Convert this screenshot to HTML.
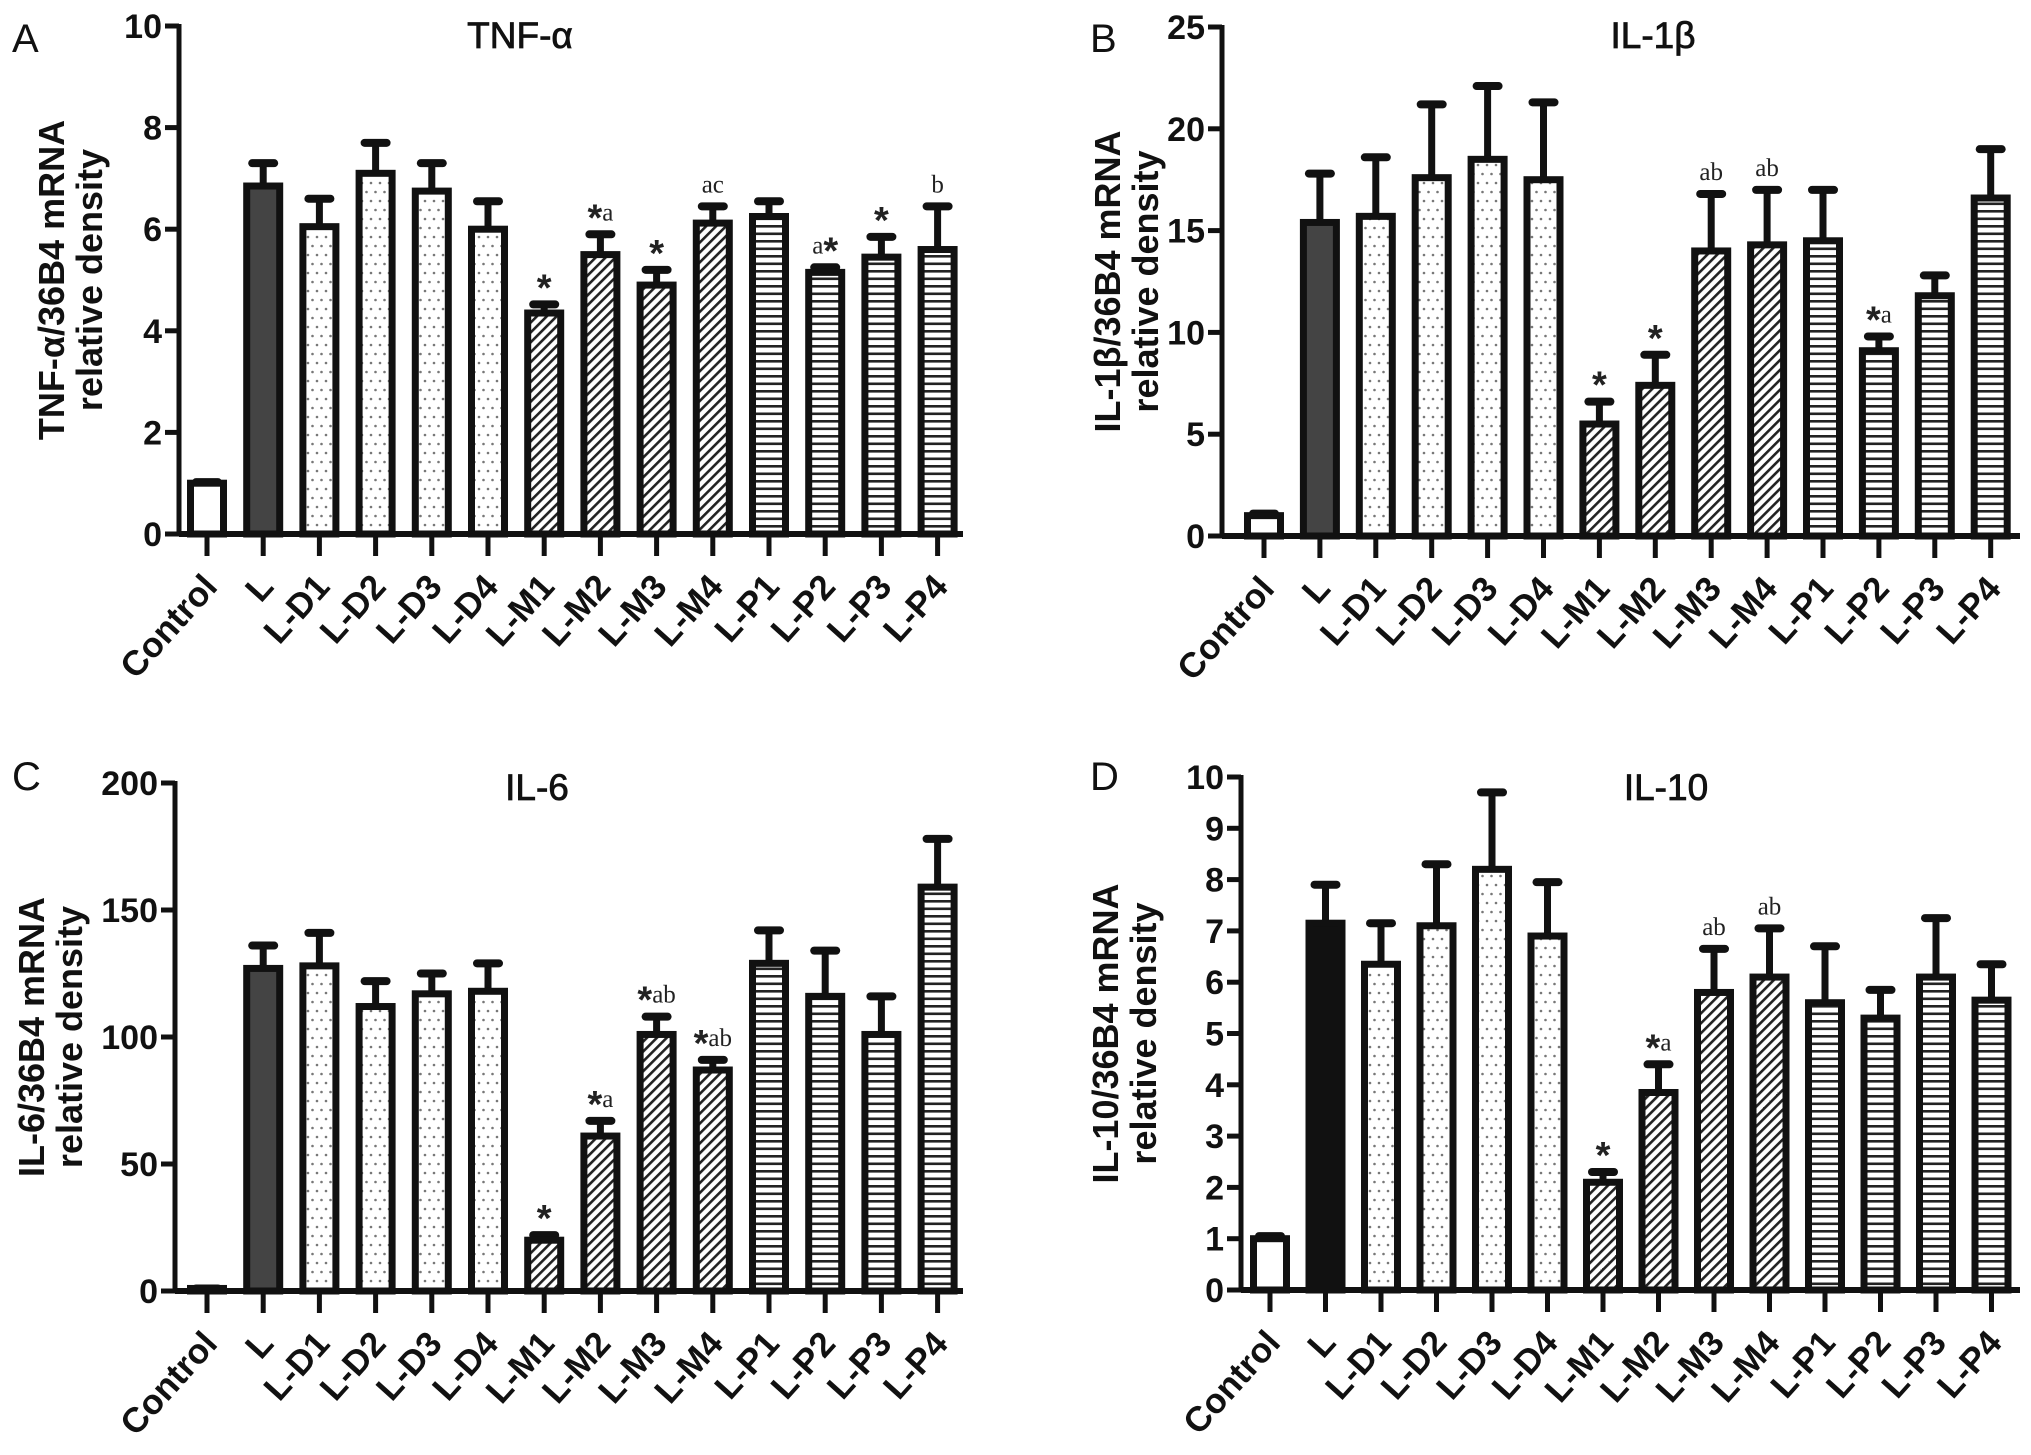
<!DOCTYPE html>
<html><head><meta charset="utf-8"><style>
html,body{margin:0;padding:0;background:#fff}
svg{display:block}
text{font-family:"Liberation Sans",sans-serif}
</style></head><body>
<svg id="fig" width="2031" height="1455" viewBox="0 0 2031 1455" xmlns="http://www.w3.org/2000/svg">
<defs>
<pattern id="dots" patternUnits="userSpaceOnUse" width="9" height="18">
<rect width="9" height="18" fill="#fff"/><circle cx="2" cy="3" r="1.3" fill="#777"/><circle cx="6.5" cy="12" r="1.3" fill="#777"/>
</pattern>
<pattern id="diag" patternUnits="userSpaceOnUse" width="7" height="7" patternTransform="rotate(45)">
<rect width="7" height="7" fill="#fff"/><rect x="0" y="0" width="2.6" height="7" fill="#222"/>
</pattern>
<pattern id="horiz" patternUnits="userSpaceOnUse" width="8" height="7.5">
<rect width="8" height="7.5" fill="#fff"/><rect x="0" y="0" width="8" height="2.6" fill="#222"/>
</pattern>
</defs>
</svg>
<script>
const categories = ["Control","L","L-D1","L-D2","L-D3","L-D4","L-M1","L-M2","L-M3","L-M4","L-P1","L-P2","L-P3","L-P4"];
const tnfMeans = [1.0,6.85,6.05,7.1,6.75,6.0,4.35,5.5,4.9,6.12,6.25,5.15,5.45,5.6];
const tnfErrTop = [1.02,7.3,6.6,7.7,7.3,6.55,4.52,5.9,5.2,6.45,6.55,5.25,5.85,6.45];
const tnfNotes = ["","","","","","","*","*a","*","ac","","a*","*","b"];
const il1Means = [1.0,15.4,15.7,17.6,18.5,17.5,5.5,7.4,14.0,14.3,14.5,9.1,11.8,16.6];
const il1ErrTop = [1.1,17.8,18.6,21.2,22.1,21.3,6.6,8.9,16.8,17.0,17.0,9.8,12.8,19.0];
const il1Notes = ["","","","","","","*","*","ab","ab","","*a","",""];
const il6Means = [1,127,128,112,117,118,20,61,101,87,129,116,101,159];
const il6ErrTop = [1,136,141,122,125,129,22,67,108,91,142,134,116,178];
const il6Notes = ["","","","","","","*","*a","*ab","*ab","","","",""];
const il10Means = [1.0,7.15,6.35,7.1,8.2,6.9,2.1,3.85,5.8,6.1,5.6,5.3,6.1,5.65];
const il10ErrTop = [1.05,7.9,7.15,8.3,9.7,7.95,2.3,4.4,6.65,7.05,6.7,5.85,7.25,6.35];
const il10Notes = ["","","","","","","*","*a","ab","ab","","","",""];
const tnfTicks = [0,2,4,6,8,10];
const il1Ticks = [0,5,10,15,20,25];
const il6Ticks = [0,50,100,150,200];
const il10Ticks = [0,1,2,3,4,5,6,7,8,9,10];

const NS="http://www.w3.org/2000/svg";
const svg=document.getElementById('fig');
function mk(tag,attrs,parent){const e=document.createElementNS(NS,tag);for(const k in attrs)e.setAttribute(k,attrs[k]);(parent||svg).appendChild(e);return e;}

const panels=[
 {id:"a",letter:"A",lx:12,ly:52,title:"TNF-α",tx:520,ty:48,ax:179,y0:534,yTop:26,xEnd:963,c0:207,step:56.2,max:10,ticks:tnfTicks,means:tnfMeans,err:tnfErrTop,notes:tnfNotes,yl1:"TNF-α/36B4 mRNA",yl2:"relative density",ylx:64,lFill:"#444"},
 {id:"b",letter:"B",lx:1090,ly:52,title:"IL-1β",tx:1653,ty:48,ax:1222,y0:536,yTop:27,xEnd:2020,c0:1264,step:55.9,max:25,ticks:il1Ticks,means:il1Means,err:il1ErrTop,notes:il1Notes,yl1:"IL-1β/36B4 mRNA",yl2:"relative density",ylx:1120,lFill:"#444"},
 {id:"c",letter:"C",lx:12,ly:790,title:"IL-6",tx:537,ty:800,ax:175,y0:1291,yTop:783,xEnd:963,c0:207,step:56.2,max:200,ticks:il6Ticks,means:il6Means,err:il6ErrTop,notes:il6Notes,yl1:"IL-6/36B4 mRNA",yl2:"relative density",ylx:44,lFill:"#444"},
 {id:"d",letter:"D",lx:1090,ly:790,title:"IL-10",tx:1666,ty:800,ax:1241,y0:1290,yTop:777,xEnd:2020,c0:1270,step:55.5,max:10,ticks:il10Ticks,means:il10Means,err:il10ErrTop,notes:il10Notes,yl1:"IL-10/36B4 mRNA",yl2:"relative density",ylx:1118,lFill:"#111"}
];

function fillFor(i,p){if(i===0)return "#fff";if(i===1)return p.lFill;if(i<=5)return "url(#dots)";if(i<=9)return "url(#diag)";return "url(#horiz)";}

panels.forEach(p=>{
 const g=mk('g',{});
 
 
 const ys=v=>p.y0-(v/p.max)*(p.y0-p.yTop);
 const xs=i=>p.c0+i*p.step;
 const bw=39;
 const L=mk('text',{x:p.lx,y:p.ly,'font-size':40,fill:'#111'},g);L.textContent=p.letter;
 
 
 const T=mk('text',{x:p.tx,y:p.ty,'font-size':37,'text-anchor':'middle',fill:'#111','stroke':'#111','stroke-width':0.8},g);T.textContent=p.title;
 
 
 const ym=(p.y0+p.yTop)/2;
 const yl=mk('text',{transform:`translate(${p.ylx},${ym}) rotate(-90)`,'font-size':36,'font-weight':'bold','text-anchor':'middle',fill:'#111'},g);
 
 
 const t1=mk('tspan',{x:0,y:0},yl);t1.textContent=p.yl1;
 const t2=mk('tspan',{x:0,dy:38},yl);t2.textContent=p.yl2;
 p.means.forEach((v,i)=>{
  const x=xs(i);
  const e=mk('line',{x1:x,x2:x,y1:ys(v),y2:ys(p.err[i]),stroke:'#111','stroke-width':7},g);
  
  
  const c=mk('line',{x1:x-11,x2:x+11,y1:ys(p.err[i]),y2:ys(p.err[i]),stroke:'#111','stroke-width':8,'stroke-linecap':'round'},g);
  
  
  const r=mk('rect',{x:x-bw/2+3,y:ys(v),width:bw-6,height:Math.max(p.y0-ys(v),0.5),fill:fillFor(i,p),stroke:'#111','stroke-width':7},g);
  
  
  const n=p.notes[i];
  if(n){
   const nt=mk('text',{x:x,y:ys(p.err[i])-14,'text-anchor':'middle',fill:'#222'},g);
   
   
   let shifted=false;
   for(const ch of n){
    let s;
    if(ch==='*'){s=mk('tspan',{'font-size':38,'font-weight':'bold',dy:shifted?0:10},nt);shifted=true;}
    else{s=mk('tspan',{'font-size':25,'font-family':'Liberation Serif,serif',dy:shifted?-10:0},nt);shifted=false;}
    s.textContent=ch;
   }
  }
  const tk=mk('line',{x1:x,x2:x,y1:p.y0,y2:p.y0+22,stroke:'#111','stroke-width':5},g);
  
  
  const cl=mk('text',{transform:`translate(${x+12},${p.y0+54}) rotate(-48)`,'font-size':35,'font-weight':'bold','text-anchor':'end',fill:'#111'},g);
  cl.textContent=categories[i];
  
  
 });
 const ya=mk('line',{x1:p.ax,x2:p.ax,y1:p.yTop-2,y2:p.y0+2,stroke:'#111','stroke-width':5},g);
 
 
 const xa=mk('line',{x1:p.ax,x2:p.xEnd,y1:p.y0,y2:p.y0,stroke:'#111','stroke-width':6},g);
 
 
 p.ticks.forEach(t=>{
  const y=ys(t);
  const l=mk('line',{x1:p.ax-14,x2:p.ax,y1:y,y2:y,stroke:'#111','stroke-width':5},g);
  
  
  const tl=mk('text',{x:p.ax-17,y:y+12,'font-size':34,'font-weight':'bold','text-anchor':'end',fill:'#111'},g);
  tl.textContent=t;
  
  
 });
});
</script>
</body></html>
